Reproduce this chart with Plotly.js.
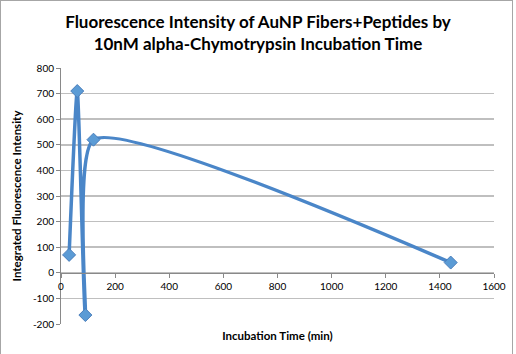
<!DOCTYPE html>
<html>
<head>
<meta charset="utf-8">
<script src="https://cdn.plot.ly/plotly-3.0.1.min.js"></script>
<style>
  html, body { margin: 0; padding: 0; background: #fff; }
  #frame { position: absolute; left: 0; top: 0; width: 511px; height: 360px;
           border-left: 1px solid #a6a6a6; border-top: 1px solid #a6a6a6; border-right: 1px solid #a6a6a6; }
  #chart { position: absolute; left: 0; top: 0; width: 516px; height: 354px; }
</style>
</head>
<body>
<div id="frame"></div>
<div id="chart"></div>
<script>
const incubationTime = [30, 60, 90, 120, 1440];
const fluorescence = [70, 710, -165, 520, 40];
const xTicks = [0, 200, 400, 600, 800, 1000, 1200, 1400, 1600];
const yTicks = [-200, -100, 0, 100, 200, 300, 400, 500, 600, 700, 800];

const font = "Lato, 'Open Sans', sans-serif";

const trace = {
  x: incubationTime,
  y: fluorescence,
  type: 'scatter',
  mode: 'lines+markers',
  line: { color: '#4A86C8', width: 3.5, shape: 'spline', smoothing: 0.55 },
  marker: { symbol: 'diamond', size: 10, color: '#5B9BD5', line: { color: '#4A7EBB', width: 1 } },
  showlegend: false
};

const layout = {
  width: 516, height: 354,
  margin: { l: 61, r: 22, t: 68, b: 30 },
  paper_bgcolor: 'rgba(0,0,0,0)',
  plot_bgcolor: 'rgba(0,0,0,0)',
  font: { family: font, color: '#000', size: 10 },
  title: {
    text: '<b>Fluorescence Intensity of AuNP Fibers+Peptides by<br>10nM alpha-Chymotrypsin Incubation Time</b>',
    font: { family: font, size: 17, color: '#000' },
    x: 0.5, xanchor: 'center', y: 0.92, yanchor: 'top'
  },
  xaxis: {
    range: [0, 1600],
    tickvals: xTicks,
    ticktext: xTicks.map(String),
    showgrid: false,
    zeroline: false,
    showline: true, linecolor: '#898989', linewidth: 1,
    ticks: 'outside', ticklen: 4, tickcolor: '#898989',
    anchor: 'free', position: 0.2,
    automargin: false,
    tickfont: { family: font, size: 10, color: '#000' },
    title: { text: '<b>Incubation Time (min)</b>', font: { family: font, size: 11.5, color: '#000' }, standoff: 41 }
  },
  yaxis: {
    range: [-200, 800],
    tickvals: yTicks,
    ticktext: yTicks.map(String),
    showgrid: true, gridcolor: '#bfbfbf', gridwidth: 1.5,
    zeroline: false,
    showline: true, linecolor: '#898989', linewidth: 1,
    ticks: 'outside', ticklen: 4, tickcolor: '#898989',
    automargin: false,
    tickfont: { family: font, size: 10, color: '#000' },
    title: { text: '<b>Integrated Fluorescence Intensity</b>', font: { family: font, size: 11.5, color: '#000' }, standoff: 8 }
  }
};

Plotly.newPlot('chart', [trace], layout, { displayModeBar: false, staticPlot: true });
</script>
</body>
</html>
